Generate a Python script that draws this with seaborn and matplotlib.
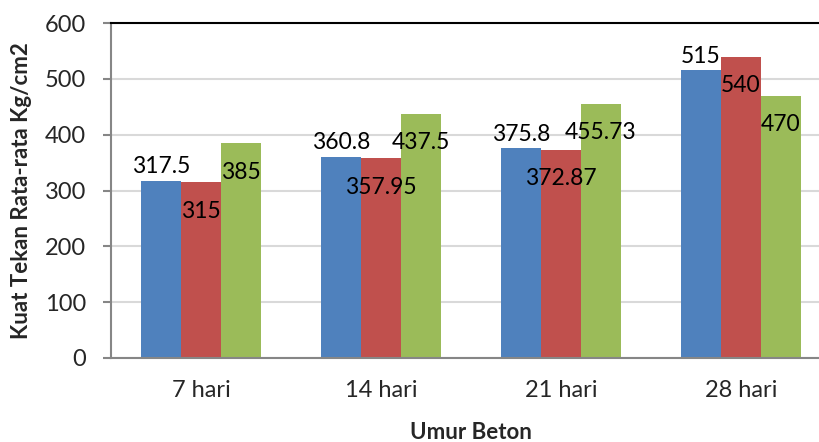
import pandas as pd
import matplotlib
matplotlib.use('Agg')
import matplotlib.pyplot as plt
import seaborn as sns

# data
categories = ['7 hari', '14 hari', '21 hari', '28 hari']
series_names = ['Sampel 1', 'Sampel 2', 'Sampel 3']
series1 = [317.5, 360.8, 375.8, 515]
series2 = [315, 357.95, 372.87, 540]
series3 = [385, 437.5, 455.73, 470]
colors = ['#4F81BD', '#C0504D', '#9BBB59']

rows = []
for name, vals in zip(series_names, [series1, series2, series3]):
    for cat, v in zip(categories, vals):
        rows.append({'Umur': cat, 'Seri': name, 'Nilai': v})
df = pd.DataFrame(rows)

sns.set_style('white')
plt.rcParams['font.family'] = ['Lato', 'DejaVu Sans']

fig = plt.figure(figsize=(8.19, 4.42), dpi=100)
ax = fig.add_axes([111 / 819, 84 / 442, 720 / 819, 335 / 442])

sns.barplot(data=df, x='Umur', y='Nilai', hue='Seri', order=categories,
            hue_order=series_names, palette=colors, width=0.667, gap=0,
            saturation=1, edgecolor='none', legend=False, ax=ax)

# value labels: first series above the bar, others inside near the top
offsets = [10, -21, -21]
for cont, off in zip(ax.containers, offsets):
    for rect in cont:
        h = rect.get_height()
        ax.annotate(f'{h:g}', (rect.get_x() + rect.get_width() / 2, h),
                    xytext=(0, off), textcoords='offset points',
                    ha='center', va='center', fontsize=16.5, color='black')

ax.set_ylim(0, 600)
ax.set_xlim(-0.5, 3.5)
ax.set_yticks(range(0, 601, 100))
ax.yaxis.grid(True, color='#D9D9D9', linewidth=1.5)
ax.set_axisbelow(True)

for s in ['left', 'bottom']:
    ax.spines[s].set_color('#868686')
    ax.spines[s].set_linewidth(1.5)
ax.spines['top'].set_color('black')
ax.spines['top'].set_linewidth(1.5)
ax.spines['right'].set_visible(False)

ax.tick_params(axis='y', which='major', left=True, length=6, width=1.5,
               color='#868686', labelsize=17, pad=12)
ax.tick_params(axis='x', length=0, labelsize=17, pad=16)

ax.set_xlabel('Umur Beton', fontsize=16, fontweight='bold')
ax.set_ylabel('Kuat Tekan Rata-rata Kg/cm2', fontsize=16, fontweight='bold')
ax.xaxis.set_label_coords(0.5, -0.19)
ax.yaxis.set_label_coords(-0.11, 0.5)

fig.savefig('out.png', dpi=100)
